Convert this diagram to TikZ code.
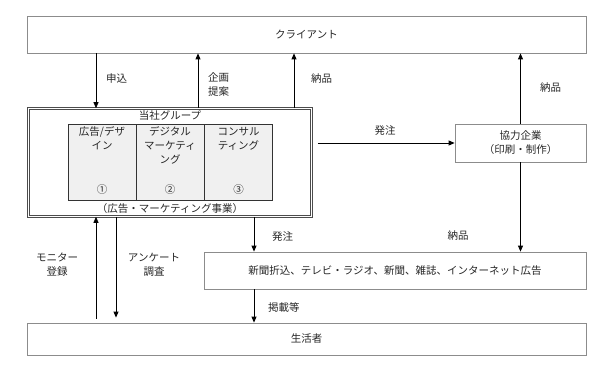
\documentclass[tikz,border=0pt]{standalone}
\usepackage{fontspec}
\setmainfont{Noto Sans CJK JP}
\usetikzlibrary{arrows.meta,positioning,calc}

\begin{document}
\begin{tikzpicture}[
  x=1pt, y=-1pt,
  font=\fontsize{10.5}{14}\selectfont,
  every node/.style={align=center, text=black!85, inner sep=0pt},
  party/.style={draw=black!45, line width=0.8pt},
  grpbox/.style={draw=black!70, double, double distance=1.4pt, line width=0.6pt},
  unit/.style={draw=black!80, fill=gray!12, line width=0.7pt,
               minimum width=68pt, minimum height=76pt},
  flowlbl/.style={font=\fontsize{10.5}{14}\selectfont},
  arr/.style={-{Triangle[length=6pt,width=5pt]}, line width=0.8pt, black}
]

\useasboundingbox (0,0) rectangle (612,371);

% parties along the top and bottom
\node[party, minimum width=559pt, minimum height=37pt] (client)   at (306.5,34.5) {クライアント};
\node[party, minimum width=559pt, minimum height=32pt] (consumer) at (306.5,339)  {生活者};
\node[party, minimum width=131pt, minimum height=38pt] (partner)  at (520.5,143)
     {協力企業\\（印刷・制作）};
\node[party, minimum width=382pt, minimum height=37pt] (media)    at (395,270.5)
     {新聞折込、テレビ・ラジオ、新聞、雑誌、インターネット広告};

% our group with its three units
\node[grpbox, minimum width=283pt, minimum height=108pt] (grp) at (170,162.5) {};
\node (grptitle) at (170,116) {当社グループ};
\node (grpfoot)  at (170,209) {（広告・マーケティング事業）};

\node[unit] (u1) at (102,162) {};
\node[unit] (u2) at (170,162) {};
\node[unit] (u3) at (238.5,162) {};
\node[anchor=north, yshift=-3pt] (u1t) at (u1.north) {広告/デザ\\イン};
\node[anchor=north, yshift=-3pt] (u2t) at (u2.north) {デジタル\\マーケティ\\ング};
\node[anchor=north, yshift=-3pt] (u3t) at (u3.north) {コンサル\\ティング};
\node (u1n) at (102,190) {①};
\node (u2n) at (170,190) {②};
\node (u3n) at (238.5,190) {③};

% x positions of the vertical flows
\coordinate (xShin) at (96,0);
\coordinate (xKika) at (198,0);
\coordinate (xNou)  at (294,0);
\coordinate (xMon)  at (96,0);
\coordinate (xEnq)  at (116,0);
\coordinate (xHat)  at (254,0);

% client <-> group
\draw[arr] (xShin |- client.south) -- (xShin |- grp.north);
\draw[arr] (xKika |- grp.north) -- (xKika |- client.south);
\draw[arr] (xNou |- grp.north) -- (xNou |- client.south);
\node[flowlbl, anchor=west] (lShin) at (106,79) {申込};
\node[flowlbl, anchor=west] (lKika) at (208,84) {企画\\提案};
\node[flowlbl, anchor=west] (lNou)  at (311,79) {納品};

% group -> partner -> client / media
\draw[arr] ([xshift=6pt]grp.east |- partner.west) -- (partner.west);
\node[flowlbl] (lHat1) at (385,131) {発注};
\draw[arr] (partner.north) -- (partner.north |- client.south);
\node[flowlbl, anchor=west] (lNou2) at (540,88) {納品};
\draw[arr] (partner.south) -- (partner.south |- media.north);
\node[flowlbl] (lNou3) at (458,236) {納品};

% group -> media -> consumer
\draw[arr] (xHat |- grp.south) -- (xHat |- media.north);
\node[flowlbl, anchor=west] (lHat2) at (272,237) {発注};
\draw[arr] (xHat |- media.south) -- (xHat |- consumer.north);
\node[flowlbl, anchor=west] (lKei) at (268,307) {掲載等};

% consumer <-> group
\draw[arr] ([yshift=4pt]xMon |- consumer.north) -- (xMon |- grp.south);
\draw[arr] (xEnq |- grp.south) -- ([yshift=5pt]xEnq |- consumer.north);
\node[flowlbl] (lMon) at (57,265)  {モニター\\登録};
\node[flowlbl] (lEnq) at (154,265) {アンケート\\調査};

\end{tikzpicture}
\end{document}
